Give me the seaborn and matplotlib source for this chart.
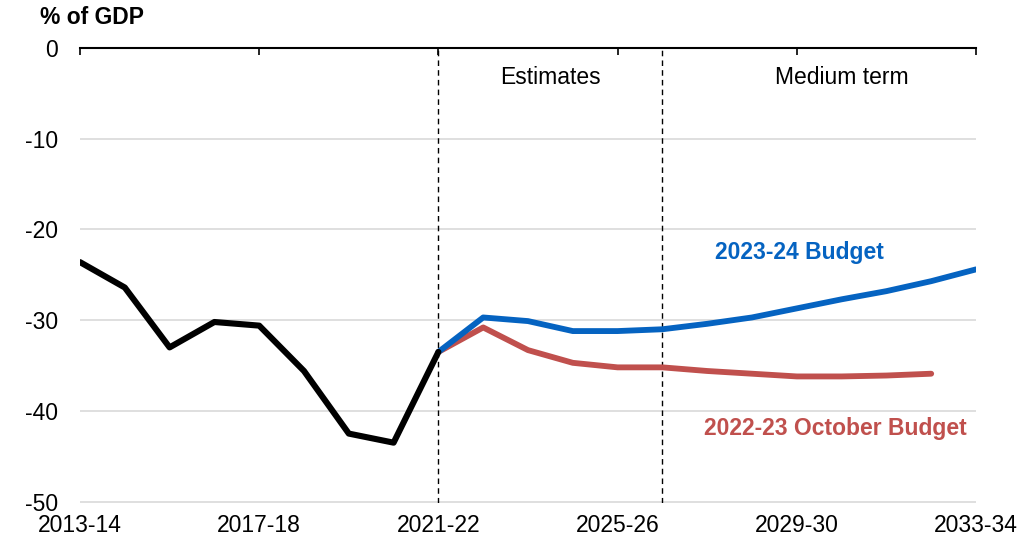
import numpy as np
import pandas as pd
import seaborn as sns
import matplotlib.pyplot as plt

# Financial years on the category axis
years = [f"{y}-{str(y + 1)[-2:]}" for y in range(2013, 2034)]

# Actuals, 2013-14 to 2021-22
actual = [-23.6, -26.4, -33.0, -30.2, -30.6, -35.6, -42.5, -43.5, -33.5]

# 2023-24 Budget, 2021-22 to 2033-34
budget_2324 = [-33.5, -29.7, -30.1, -31.2, -31.2, -31.0, -30.4, -29.7,
               -28.7, -27.7, -26.8, -25.7, -24.4]

# 2022-23 October Budget, 2021-22 to 2032-33
budget_oct = [-33.5, -30.8, -33.3, -34.7, -35.2, -35.2, -35.6, -35.9,
              -36.2, -36.2, -36.1, -35.9]

tick_labels = ["2013-14", "2017-18", "2021-22", "2025-26", "2029-30", "2033-34"]
y_ticks = [0, -10, -20, -30, -40, -50]

black = "#000000"
blue = "#0563C1"
red = "#C0504D"

sns.set_theme(style="white")
plt.rcParams["font.family"] = ["Liberation Sans", "DejaVu Sans"]
plt.rcParams["text.color"] = "black"
plt.rcParams["ytick.color"] = "black"

idx = {y: i for i, y in enumerate(years)}
df_act = pd.DataFrame({"x": [idx[y] for y in years[:len(actual)]], "v": actual})
df_new = pd.DataFrame({"x": [idx[y] for y in years[8:8 + len(budget_2324)]],
                       "v": budget_2324})
df_old = pd.DataFrame({"x": [idx[y] for y in years[8:8 + len(budget_oct)]],
                       "v": budget_oct})

fs = 16.5

fig = plt.figure(figsize=(10.19, 5.47), dpi=100)
ax = fig.add_axes([80 / 1019, 1 - 503 / 547, (976 - 80) / 1019, (503 - 48) / 547])

sns.lineplot(df_old, x="x", y="v", color=red, lw=4.2, ax=ax, zorder=3)
sns.lineplot(df_new, x="x", y="v", color=blue, lw=4.2, ax=ax, zorder=4)
sns.lineplot(df_act, x="x", y="v", color=black, lw=4.4, ax=ax, zorder=5)

# Period markers
ax.axvline(idx["2021-22"], color="black", ls=(0, (4, 3)), lw=1, zorder=2)
ax.axvline(idx["2026-27"], color="black", ls=(0, (4, 3)), lw=1, zorder=2)

ax.set_xlim(0, len(years) - 1)
ax.set_ylim(-50.15, 0)
ax.set_yticks(y_ticks)
ax.set_yticklabels([str(v) for v in y_ticks], fontsize=fs)
ax.grid(axis="y", color="#D9D9D9", lw=1.2)
ax.set_axisbelow(True)

# category axis crosses at zero (top), labels low
ax.set_xticks([idx[t] for t in tick_labels])
ax.set_xticklabels([])
ax.tick_params(axis="x", which="both", top=True, bottom=False, direction="in",
               length=5, width=1.2, color="black", labeltop=False, labelbottom=False)
ax.tick_params(axis="y", length=0, pad=16)
for t in tick_labels:
    ax.text(idx[t], -52.6, t, ha="center", va="center", fontsize=fs)

for s in ["left", "right", "bottom"]:
    ax.spines[s].set_visible(False)
ax.spines["top"].set_color("black")
ax.spines["top"].set_linewidth(1.5)

ax.set_xlabel("")
ax.set_ylabel("")

fig.text(40 / 1019, 1 - 18 / 547, "% of GDP", fontsize=fs, fontweight="bold",
         ha="left", va="center")
ax.text(10.5, -3.3, "Estimates", ha="center", va="center", fontsize=fs)
ax.text(17.0, -3.3, "Medium term", ha="center", va="center", fontsize=fs)
ax.text(16.05, -22.5, "2023-24 Budget", ha="center", va="center", fontsize=fs,
        fontweight="bold", color=blue)
ax.text(16.87, -41.9, "2022-23 October Budget", ha="center", va="center",
        fontsize=fs, fontweight="bold", color=red)

fig.savefig("out.png", dpi=100)
